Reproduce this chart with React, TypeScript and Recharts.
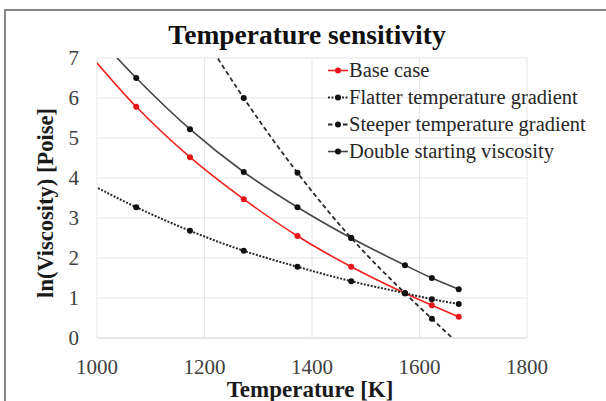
import React from 'react';
import { LineChart, Line, XAxis, YAxis, CartesianGrid, Legend } from 'recharts';

// Temperatures [K]
const temperatures = [973, 1073, 1173, 1273, 1373, 1473, 1573, 1623, 1673];
// ln(viscosity) [Poise]
const baseCase = [7.3, 5.78, 4.52, 3.47, 2.55, 1.78, 1.12, 0.82, 0.53];
const flatterGradient = [3.95, 3.27, 2.68, 2.18, 1.78, 1.42, 1.12, 0.97, 0.85];
const steeperGradient = [null, null, 8.1, 6.0, 4.13, 2.5, 1.12, 0.48, -0.15];
const doubleViscosity = [7.95, 6.5, 5.22, 4.15, 3.27, 2.5, 1.82, 1.5, 1.22];

const xTicks = [1000, 1200, 1400, 1600, 1800];
const yTicks = [0, 1, 2, 3, 4, 5, 6, 7];

const seriesNames = [
  'Base case',
  'Flatter temperature gradient',
  'Steeper temperature gradient',
  'Double starting viscosity',
];

const table = temperatures.map((T, i) => ({
  T,
  base: baseCase[i],
  flatter: flatterGradient[i],
  steeper: steeperGradient[i],
  double: doubleViscosity[i],
}));

const FONT = "'Liberation Serif', 'Times New Roman', serif";

const series = [
  { key: 'base', name: seriesNames[0], color: '#f0201e', dot: '#e8141a', dash: undefined as string | undefined, width: 1.6 },
  { key: 'flatter', name: seriesNames[1], color: '#2a2a2a', dot: '#111', dash: '2 1.5', width: 2 },
  { key: 'steeper', name: seriesNames[2], color: '#2a2a2a', dot: '#111', dash: '4.5 3', width: 1.8 },
  { key: 'double', name: seriesNames[3], color: '#454545', dot: '#111', dash: undefined as string | undefined, width: 1.6 },
];

const X_MIN = 1000;
const X_MAX = 1800;
const Y_MIN = 0;
const Y_MAX = 7;

const makeDot = (color: string, key: string) => (props: any) => {
  const { cx, cy, payload, index } = props;
  const v = payload ? payload[key] : null;
  if (v == null || payload.T < X_MIN || payload.T > X_MAX || v > Y_MAX || v < Y_MIN || cx == null || cy == null) {
    return <g key={`d-${key}-${index}`} />;
  }
  return <circle key={`d-${key}-${index}`} cx={cx} cy={cy} r={3} fill={color} stroke="none" />;
};

const ROW = 27;
const renderLegend = () => (
  <svg width={280} height={ROW * series.length} style={{ display: 'block' }}>
    {series.map((s, i) => {
      const y = ROW * i + ROW / 2;
      return (
        <g key={s.key}>
          <line x1={1} y1={y} x2={21} y2={y} stroke={s.color} strokeWidth={s.width} strokeDasharray={s.dash} />
          <circle cx={11} cy={y} r={3} fill={s.dot} />
          <text x={22} y={y} dy="0.34em" fontFamily={FONT} fontSize={20.5} fill="#262626">
            {s.name}
          </text>
        </g>
      );
    })}
  </svg>
);

const XLabel = (props: any) => {
  const vb = props.viewBox || {};
  return (
    <text x={vb.x + vb.width / 2 - 2} y={vb.y + 59} textAnchor="middle" fontFamily={FONT} fontWeight="bold" fontSize={23} fill="#1a1a1a">
      Temperature [K]
    </text>
  );
};

const YLabel = (props: any) => {
  const vb = props.viewBox || {};
  const cx = 45;
  const cy = vb.y + vb.height / 2 + 5;
  return (
    <text x={cx} y={cy} dy="0.35em" transform={`rotate(-90, ${cx}, ${cy})`} textAnchor="middle" fontFamily={FONT} fontWeight="bold" fontSize={22.5} fill="#1a1a1a">
      ln(Viscosity) [Poise]
    </text>
  );
};

export default function App() {
  return (
    <div style={{ position: 'absolute', left: 0, top: 0, width: 606, height: 401, overflow: 'hidden', background: '#fff' }}>
      <div style={{ position: 'absolute', left: 4, top: 9, width: 800, height: 600, border: '2px solid #858585' }} />
      <div
        style={{
          position: 'absolute',
          left: 0,
          top: 18,
          width: 614,
          textAlign: 'center',
          fontFamily: FONT,
          fontWeight: 'bold',
          fontSize: 27.5,
          lineHeight: '33px',
          color: '#111',
        }}
      >
        Temperature sensitivity
      </div>
      <div style={{ position: 'absolute', left: 0, top: 0 }}>
        <LineChart width={606} height={401} data={table} margin={{ top: 58, right: 79, bottom: 33, left: 57 }}>
          <CartesianGrid stroke="#e6e6e6" strokeWidth={1} />
          <XAxis
            type="number"
            dataKey="T"
            domain={[X_MIN, X_MAX]}
            ticks={xTicks}
            allowDataOverflow
            height={30}
            tickLine={false}
            tickSize={0}
            tickMargin={21}
            axisLine={{ stroke: '#d9d9d9' }}
            tick={{ fontFamily: FONT, fontSize: 21, fill: '#404040' }}
            label={<XLabel />}
          />
          <YAxis
            type="number"
            domain={[Y_MIN, Y_MAX]}
            ticks={yTicks}
            allowDataOverflow
            width={40}
            tickLine={false}
            tickSize={0}
            tickMargin={18}
            axisLine={false}
            tick={{ fontFamily: FONT, fontSize: 21, fill: '#404040' }}
            label={<YLabel />}
          />
          <Legend
            layout="vertical"
            align="center"
            verticalAlign="middle"
            wrapperStyle={{ left: 327, top: 57, width: 280 }}
            content={renderLegend}
          />
          {series.map((s) => (
            <Line
              key={s.key}
              type="monotone"
              dataKey={s.key}
              name={s.name}
              stroke={s.color}
              strokeWidth={s.width}
              strokeDasharray={s.dash}
              dot={makeDot(s.dot, s.key)}
              activeDot={false}
              isAnimationActive={false}
              legendType="line"
            />
          ))}
        </LineChart>
      </div>
    </div>
  );
}
